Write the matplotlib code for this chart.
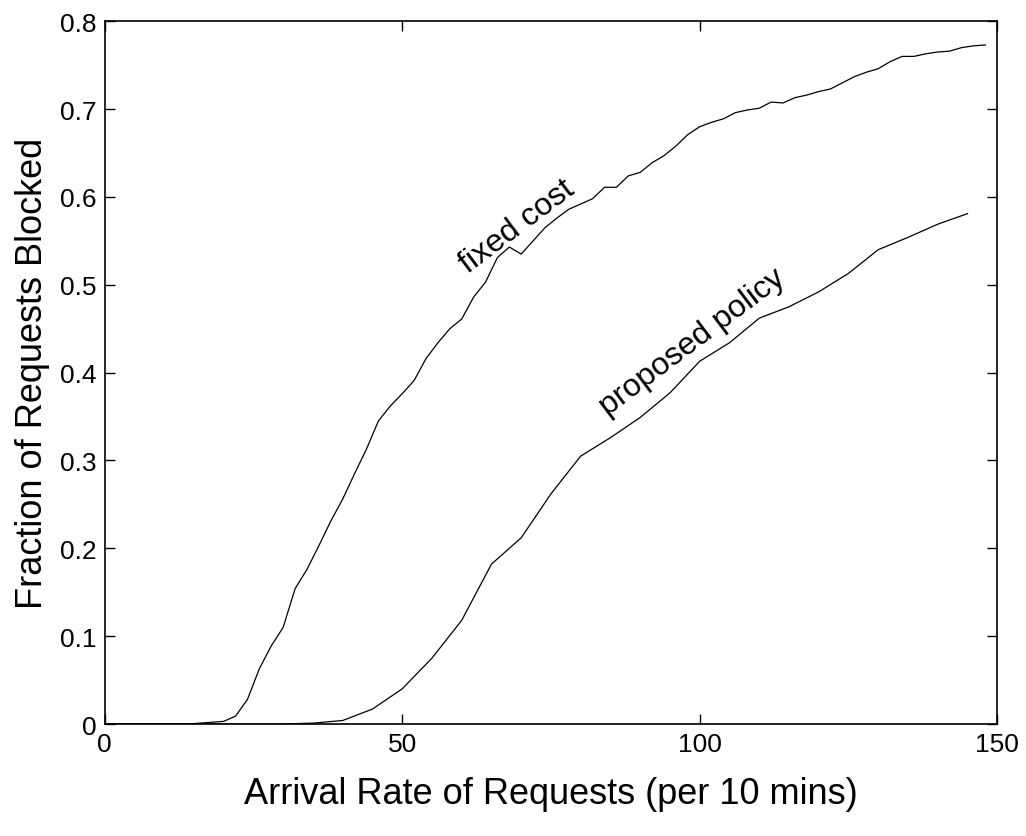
import numpy as np
import matplotlib
matplotlib.use("Agg")
import matplotlib.pyplot as plt

plt.rcParams['font.family'] = ['Liberation Sans', 'DejaVu Sans']

# blocking fraction for the fixed-cost scheme, sampled every 2 requests
fixed_rate = np.arange(0, 150, 2)
fixed_blocked = [
    0, 0, 0, 0, 0, 0, 0, 0, 0.001, 0.002,
    0.003, 0.009, 0.028, 0.063, 0.089, 0.110, 0.154, 0.176, 0.203, 0.231,
    0.256, 0.285, 0.313, 0.345, 0.362, 0.376, 0.391, 0.416, 0.434, 0.450,
    0.461, 0.486, 0.503, 0.531, 0.543, 0.535, 0.550, 0.565, 0.576, 0.586,
    0.592, 0.598, 0.611, 0.611, 0.624, 0.628, 0.639, 0.647, 0.658, 0.671,
    0.680, 0.685, 0.689, 0.696, 0.699, 0.701, 0.708, 0.707, 0.713, 0.716,
    0.720, 0.723, 0.730, 0.737, 0.742, 0.746, 0.754, 0.760, 0.760, 0.763,
    0.765, 0.766, 0.770, 0.772, 0.773,
]

# blocking fraction for the proposed policy, sampled every 5 requests
policy_rate = np.arange(0, 150, 5)
policy_blocked = [
    0, 0, 0, 0, 0, 0, 0, 0.001, 0.004, 0.017,
    0.040, 0.075, 0.118, 0.182, 0.212, 0.262, 0.305, 0.326, 0.349, 0.377,
    0.413, 0.434, 0.462, 0.475, 0.492, 0.513, 0.540, 0.554, 0.569, 0.581,
]

xticks = [0, 50, 100, 150]
yticks = [0, 0.1, 0.2, 0.3, 0.4, 0.5, 0.6, 0.7, 0.8]

fig = plt.figure(figsize=(10.26, 8.37), dpi=100)
ax = fig.add_axes([0.102, 0.1338, 0.870, 0.8396])

ax.plot(fixed_rate, fixed_blocked, color='black', linewidth=0.9)
ax.plot(policy_rate, policy_blocked, color='black', linewidth=0.9)

ax.text(69.3, 0.567, 'fixed cost', rotation=37, fontsize=23,
        ha='center', va='center', rotation_mode='anchor')
ax.text(98.7, 0.435, 'proposed policy', rotation=37, fontsize=23,
        ha='center', va='center', rotation_mode='anchor')

ax.set_xlim(0, 150)
ax.set_ylim(0, 0.8)
ax.set_xticks(xticks)
ax.set_yticks(yticks)
ax.set_xticklabels([str(t) for t in xticks])
ax.set_yticklabels(['0'] + [f'{t:.1f}' for t in yticks[1:]])
ax.tick_params(direction='in', top=True, right=True, length=7, width=1,
               labelsize=19, pad=6)
for s in ax.spines.values():
    s.set_linewidth(1.2)

ax.set_xlabel('Arrival Rate of Requests (per 10 mins)', fontsize=26, labelpad=14)
ax.set_ylabel('Fraction of Requests Blocked', fontsize=26, labelpad=7)

fig.savefig('out.png', dpi=100)
